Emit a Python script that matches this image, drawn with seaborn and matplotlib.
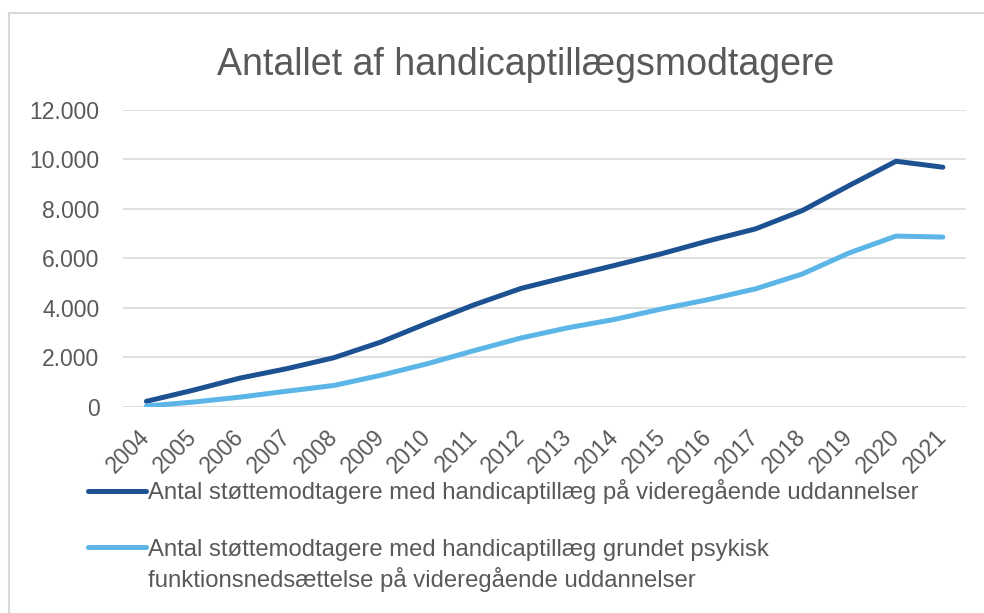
import numpy as np
import pandas as pd
import matplotlib.pyplot as plt
import matplotlib.transforms as mtransforms
import seaborn as sns
from matplotlib.ticker import FuncFormatter

# data
years = [str(y) for y in range(2004, 2022)]
total = [230, 680, 1170, 1550, 1990, 2620, 3390, 4130, 4790, 5260, 5720, 6190,
         6710, 7190, 7930, 8940, 9920, 9680]
psykisk = [40, 200, 400, 640, 870, 1280, 1750, 2280, 2790, 3200, 3540, 3960,
           4340, 4770, 5370, 6220, 6900, 6860]

label_total = "Antal støttemodtagere med handicaptillæg på videregående uddannelser"
label_psyk1 = "Antal støttemodtagere med handicaptillæg grundet psykisk"
label_psyk2 = "funktionsnedsættelse på videregående uddannelser"

df = pd.DataFrame({
    "år": list(range(len(years))) * 2,
    "antal": total + psykisk,
    "serie": ["total"] * len(years) + ["psykisk"] * len(years),
})

sns.set_theme(style="white")
plt.rcParams['font.family'] = ['Liberation Sans', 'DejaVu Sans']
txt = '#595959'
dark, light = '#1c5192', '#5bb5e6'
W, H = 984, 613

fig = plt.figure(figsize=(9.84, 6.13), dpi=100)
ax = fig.add_axes([0.125, 0.336, 0.857, 0.485])

sns.lineplot(data=df, x="år", y="antal", hue="serie", ax=ax,
             palette=[dark, light], linewidth=3.6, legend=False,
             solid_capstyle='round')

ax.set_xlim(-0.5, len(years) - 0.5)
ax.set_ylim(0, 12000)
ax.set_yticks(np.arange(0, 12001, 2000))
ax.yaxis.set_major_formatter(FuncFormatter(lambda v, p: f"{int(v):,}".replace(",", ".")))
ax.set_xticks(range(len(years)))
ax.set_xticklabels(years, rotation=45, ha='right', rotation_mode='anchor')
ax.tick_params(axis='y', length=0, pad=17, labelsize=16.5, labelcolor=txt)
ax.tick_params(axis='x', length=0, pad=4, labelsize=16.5, labelcolor=txt)
shift = mtransforms.ScaledTranslation(-8 / 100, -13 / 100, fig.dpi_scale_trans)
for lab in ax.get_xticklabels():
    lab.set_transform(lab.get_transform() + shift)
ax.grid(axis='y', color='#d9d9d9', linewidth=1.2)
for s in ax.spines.values():
    s.set_visible(False)
ax.set_xlabel("")
ax.set_ylabel("")

fig.text(0.534, 0.894, "Antallet af handicaptillægsmodtagere", ha='center', va='center',
         fontsize=27, color=txt)

# chart border (left and top edge visible in the reference)
fig.add_artist(plt.Line2D([8.5 / W, 8.5 / W, 1], [0, 1 - 12.5 / H, 1 - 12.5 / H],
                          transform=fig.transFigure, color='#d9d9d9', linewidth=1.5))

blank = plt.Line2D([], [], color='none')
handles = [plt.Line2D([], [], color=dark, linewidth=3.6, solid_capstyle='round'),
           blank,
           plt.Line2D([], [], color=light, linewidth=3.6, solid_capstyle='round'),
           blank]
fig.legend(handles, [label_total, " ", label_psyk1, label_psyk2], loc='upper left',
           bbox_to_anchor=(0.089, 0.218), frameon=False, fontsize=17.2,
           handlelength=2.45, handletextpad=0.08, labelspacing=0.26, labelcolor=txt,
           borderaxespad=0, borderpad=0)

plt.savefig("out.png", dpi=100)
